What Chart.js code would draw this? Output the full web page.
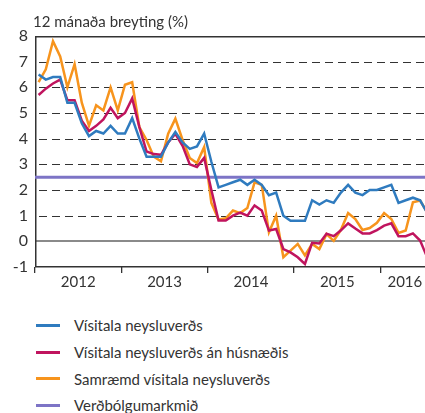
<!DOCTYPE html>
<html><head><meta charset="utf-8">
<script src="https://cdn.jsdelivr.net/npm/chart.js@4"></script>
<style>
html,body{margin:0;padding:0;background:#fff;}
#wrap{position:relative;width:425px;height:413px;overflow:hidden;font-family:Lato,sans-serif;color:#333;}
#g{position:absolute;left:0;top:0;z-index:0;}
#c{position:absolute;left:0;top:0;z-index:1;}
#legend{position:absolute;left:36px;top:312px;z-index:2;}
.item{display:flex;align-items:center;height:26.7px;font-size:15px;white-space:nowrap;}
.sw{width:24px;height:3px;margin-right:14px;}
</style></head>
<body><div id="wrap"><canvas id="g" width="425" height="300"></canvas><canvas id="c" width="425" height="300"></canvas><div id="legend"></div></div>
<script>
// ---- data (monthly, Jan 2012 - Jul 2016) ----
const titleText = '12 mánaða breyting (%)';
const years = ['2012','2013','2014','2015','2016'];
const cpi = [6.5,6.3,6.4,6.4,5.4,5.4,4.6,4.1,4.3,4.2,4.5,4.2,
             4.2,4.8,4.0,3.3,3.3,3.3,3.85,4.26,3.85,3.6,3.7,4.2,
             3.1,2.1,2.2,2.3,2.4,2.2,2.4,2.2,1.8,1.9,1.0,0.8,
             0.8,0.8,1.6,1.43,1.6,1.5,1.9,2.2,1.9,1.8,2.0,2.0,
             2.1,2.2,1.5,1.6,1.7,1.6,1.1];
const cpiExHousing = [5.7,5.95,6.15,6.3,5.5,5.5,4.7,4.3,4.5,4.75,5.2,4.8,
             5.0,5.57,4.45,3.5,3.4,3.37,3.85,4.19,3.72,3.0,2.9,3.25,
             2.0,0.81,0.81,1.0,1.12,1.0,1.4,1.2,0.42,0.48,-0.3,-0.43,
             -0.62,-0.88,-0.06,-0.08,0.3,0.2,0.43,0.7,0.5,0.31,0.31,0.44,
             0.61,0.7,0.2,0.2,0.31,0.03,-0.63];
const hicp = [6.2,6.7,7.8,7.2,6.0,6.9,5.4,4.5,5.3,5.1,6.0,5.1,
             6.1,6.2,4.45,3.95,3.3,3.12,4.19,4.78,3.95,3.25,3.05,3.67,
             1.5,0.85,0.9,1.2,1.1,1.3,2.3,2.2,0.35,1.0,-0.62,-0.36,
             -0.1,-0.55,-0.1,-0.3,0.28,0.02,0.45,1.1,0.87,0.44,0.52,0.72,
             1.1,0.87,0.33,0.42,1.52,1.59,1.12];
const inflationTarget = 2.5;

// ---- layout constants ----
const X_MIN = -0.5, X_MAX = 53.68;
const yearBounds = years.map((y,k)=>k*12-0.5);
const labelPos = years.map((y,k)=>Math.min(k*12+5.5, X_MAX-2.8));
const pts = arr => arr.map((v,i)=>({x:i,y:v}));

const series = [
  {label:'Vísitala neysluverðs', data:pts(cpi), color:'#2f7bbf', order:1},
  {label:'Vísitala neysluverðs án húsnæðis', data:pts(cpiExHousing), color:'#c0145e', order:2},
  {label:'Samræmd vísitala neysluverðs', data:pts(hicp), color:'#f7941d', order:3},
  {label:'Verðbólgumarkmið', data:[{x:X_MIN,y:inflationTarget},{x:X_MAX,y:inflationTarget}], color:'#7d74c6', order:4, width:3}
];

const titlePlugin = {id:'ttl', afterDraw(chart){
  const c = chart.ctx; c.save();
  c.font = '15px Lato'; c.fillStyle = '#333'; c.textBaseline = 'alphabetic'; c.textAlign='left';
  c.fillText(titleText, chart.chartArea.left - 2, 27);
  c.restore();
}};

// grid + axis lines painted on a layer beneath the chart canvas,
// positioned from the chart's own y scale and chart area
function paintGrid(chart){
  const gc = document.getElementById('g');
  const ctx = gc.getContext('2d');
  const a = chart.chartArea, y = chart.scales.y;
  ctx.clearRect(0,0,gc.width,gc.height);
  ctx.save();
  for (const t of y.ticks){
    if (t.value === y.min) continue;
    const py = Math.round(y.getPixelForValue(t.value));
    ctx.beginPath();
    if (t.value === 0){
      ctx.strokeStyle='#8a8a8a'; ctx.lineWidth=2; ctx.setLineDash([]);
      ctx.moveTo(a.left,py); ctx.lineTo(a.right,py);
    } else if (t.value === y.max){
      ctx.strokeStyle='#333'; ctx.lineWidth=1.5; ctx.setLineDash([]);
      ctx.moveTo(a.left,py+0.75); ctx.lineTo(a.right,py+0.75);
    } else {
      ctx.strokeStyle='#333'; ctx.lineWidth=1; ctx.setLineDash([8,5]);
      ctx.moveTo(a.left+4,py+0.5); ctx.lineTo(a.right,py+0.5);
    }
    ctx.stroke();
  }
  ctx.setLineDash([]); ctx.strokeStyle='#333'; ctx.lineWidth=1.5;
  ctx.beginPath();
  ctx.moveTo(a.left+0.75, a.top); ctx.lineTo(a.left+0.75, a.bottom);
  ctx.moveTo(a.left, a.bottom-0.25); ctx.lineTo(a.right, a.bottom-0.25);
  ctx.stroke();
  ctx.restore();
}
const gridLayerPlugin = {id:'gridLayer', afterRender(chart){ paintGrid(chart); }};

const chart = new Chart(document.getElementById('c'), {
  type:'line',
  data:{datasets: series.map(s=>({label:s.label, data:s.data, borderColor:s.color,
        borderWidth:s.width||2.5, pointRadius:0, order:s.order}))},
  options:{
    responsive:false, animation:false,
    layout:{padding:{top:36,left:0,right:0,bottom:0}},
    plugins:{legend:{display:false}, tooltip:{enabled:false}},
    scales:{
      x:{type:'linear', position:'bottom', min:X_MIN, max:X_MAX, weight:0, bounds:'data',
         afterBuildTicks: s => { s.ticks = yearBounds.map(v=>({value:v})); },
         ticks:{display:false},
         grid:{drawOnChartArea:false, drawTicks:true, tickLength:6, color:'#333', lineWidth:1.3},
         border:{display:false},
         afterFit: s => { s.height = 6; }
      },
      x2:{type:'linear', position:'bottom', min:X_MIN, max:X_MAX, weight:1, bounds:'data',
         afterBuildTicks: s => { s.ticks = labelPos.map(v=>({value:v})); },
         ticks:{callback:(v,i)=>years[i], font:{family:'Lato', size:15}, color:'#333', autoSkip:false, maxRotation:0, padding:0},
         grid:{display:false, drawTicks:false}, border:{display:false},
         afterFit: s => { s.height = 27; }
      },
      y:{min:-1, max:8,
         ticks:{stepSize:1, autoSkip:false, font:{family:'Lato', size:16}, color:'#333', padding:7},
         grid:{display:false, drawTicks:false},
         border:{display:false},
         afterFit: s => { s.width = 35; }
      }
    }
  },
  plugins:[titlePlugin, gridLayerPlugin]
});
paintGrid(chart);

// HTML legend
const lg = document.getElementById('legend');
series.forEach(s=>{
  const d = document.createElement('div'); d.className='item';
  const sw = document.createElement('span'); sw.className='sw'; sw.style.background=s.color;
  const t = document.createElement('span'); t.textContent = s.label;
  d.appendChild(sw); d.appendChild(t); lg.appendChild(d);
});
</script>
</body></html>
